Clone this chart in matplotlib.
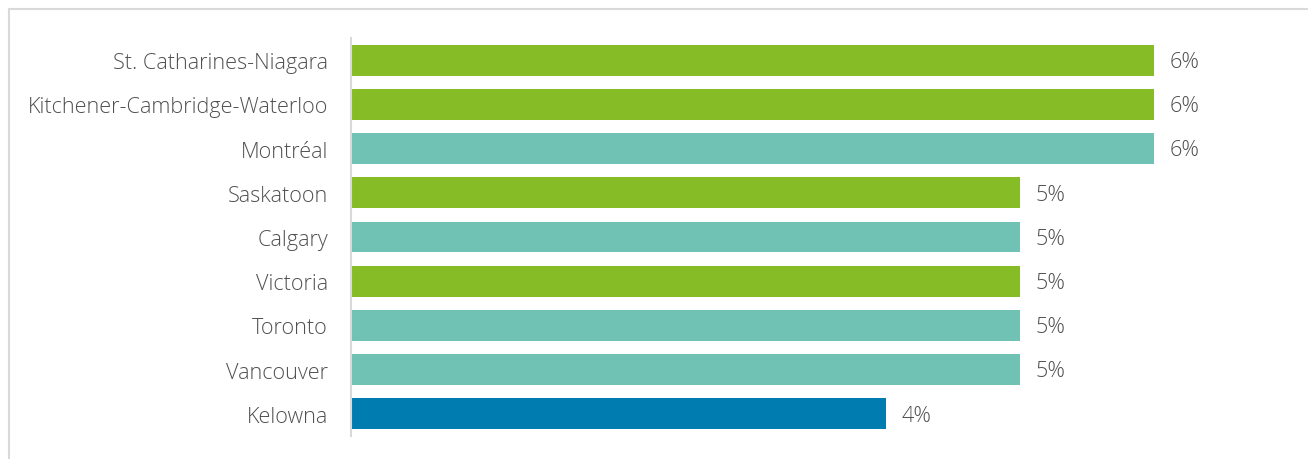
import matplotlib
matplotlib.use("Agg")
import matplotlib.pyplot as plt
from matplotlib.lines import Line2D

cities = ["St. Catharines-Niagara", "Kitchener-Cambridge-Waterloo", "Montréal",
          "Saskatoon", "Calgary", "Victoria", "Toronto", "Vancouver", "Kelowna"]
values = [6, 6, 6, 5, 5, 5, 5, 5, 4]
value_labels = ["6%", "6%", "6%", "5%", "5%", "5%", "5%", "5%", "4%"]
groups = ["g", "g", "t", "g", "t", "g", "t", "t", "b"]

palette = {"g": "#86BC25", "t": "#6FC2B4", "b": "#007CB0"}
text_color = "#505050"
font = ["Open Sans", "DejaVu Sans"]

W, H = 1308, 460
fig = plt.figure(figsize=(W / 100, H / 100), dpi=100)

# border
fig.add_artist(Line2D([8.5 / W, 8.5 / W], [0, 1 - 9.5 / H], transform=fig.transFigure,
                      color="#D9D9D9", lw=1.5))
fig.add_artist(Line2D([8.5 / W, 1307 / W], [1 - 9.5 / H, 1 - 9.5 / H], transform=fig.transFigure,
                      color="#D9D9D9", lw=1.5))

left, right = 351, 1288
top, bottom = 39, 437
ax = fig.add_axes([left / W, 1 - bottom / H, (right - left) / W, (bottom - top) / H])

n = len(cities)
ypos = list(range(n))
colors = [palette[g] for g in groups]
ax.barh(ypos, values, height=0.70, color=colors)
ax.set_ylim(n - 0.5, -0.5)
ax.set_xlim(0, 7)

for y, v, lab in zip(ypos, values, value_labels):
    ax.text(v + 0.115, y + 0.03, lab, va="center", ha="left", fontsize=15.6, color=text_color,
            family=font, fontweight="light")

ax.set_yticks(ypos)
ax.set_yticklabels(cities, fontsize=15.6, color=text_color, family=font, fontweight="light")
ax.tick_params(axis="y", length=0, pad=16.5)
ax.set_xticks([])
for s in ["top", "right", "bottom"]:
    ax.spines[s].set_visible(False)
ax.spines["left"].set_color("#D9D9D9")
ax.spines["left"].set_linewidth(1.5)

fig.savefig("out.png", dpi=100)
